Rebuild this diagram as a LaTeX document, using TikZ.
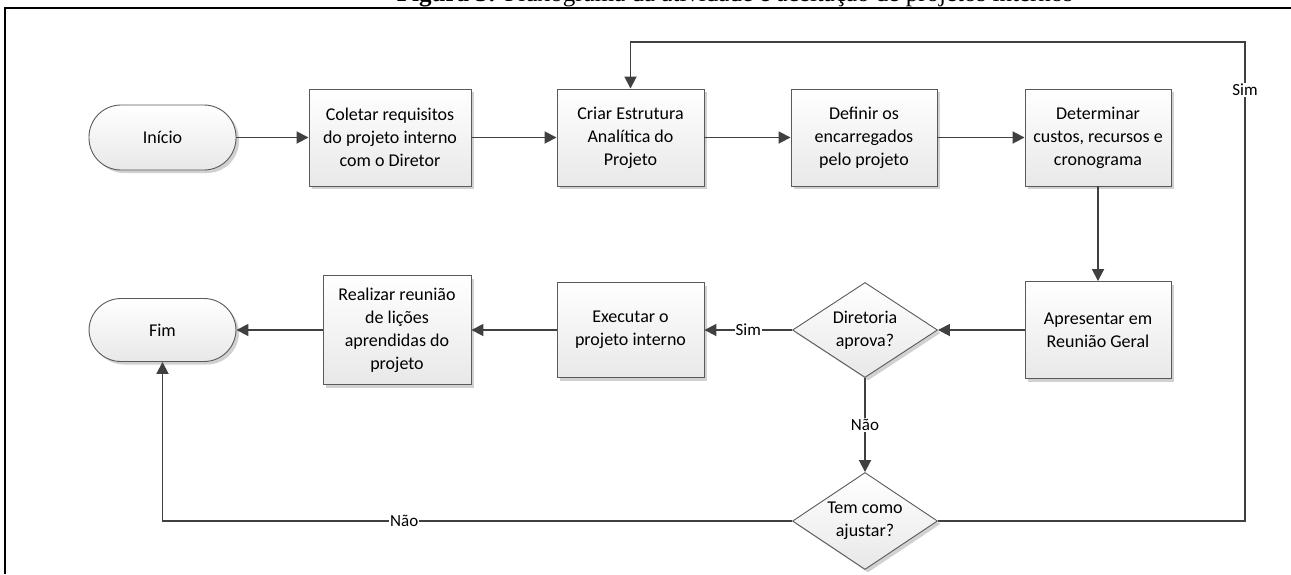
\documentclass[tikz,border=0pt]{standalone}
\usepackage{fontspec}
\setmainfont{Carlito}
\newfontfamily\titlefont{Liberation Serif}
\usetikzlibrary{shapes.geometric,arrows.meta,shadows}
\definecolor{linec}{HTML}{404040}
\definecolor{borderc}{HTML}{5A5A5A}
\definecolor{botc}{HTML}{E8E8E8}
\tikzset{
  base/.style={draw=borderc, line width=0.9pt, top color=white, bottom color=botc,
    drop shadow={shadow xshift=3pt, shadow yshift=-3pt, fill=black, opacity=0.18},
    align=center, inner sep=2pt, font=\fontsize{18}{23}\selectfont},
  procbox/.style={base, rectangle, minimum width=#1, minimum height=97pt},
  termbox/.style={base, rectangle, rounded corners=32pt, minimum width=147pt, minimum height=65pt},
  decbox/.style={base, diamond, aspect=1.5, minimum width=145pt, minimum height=95pt, inner sep=0pt},
  conn/.style={draw=linec, line width=1.8pt, -{Triangle[length=12pt,width=12pt]}},
  lbl/.style={fill=white, inner sep=1pt, font=\fontsize{17}{20}\selectfont, text=black}
}
\begin{document}
\begin{tikzpicture}[x=1pt,y=-1pt]
\useasboundingbox (0,0) rectangle (1291,574);
\begin{scope}
\clip (0,0) rectangle (1291,574);
\node[anchor=south, inner sep=0pt, font=\titlefont\fontsize{25}{30}\selectfont] (title) at (735,7)
  {\textbf{Figura 3:} Fluxograma da atividade e aceitação de projetos internos};
\end{scope}
% frame
\draw[line width=2.2pt, black] (5,574) -- (5,8) -- (1291,8);
% nodes
\node[termbox] (inicio) at (162.5,137.5) {Início};
\node[procbox=162pt] (coletar) at (390,137.5) {Coletar requisitos\\do projeto interno\\com o Diretor};
\node[procbox=147pt] (criar) at (630.5,137.5) {Criar Estrutura\\Analítica do\\Projeto};
\node[procbox=146pt] (definir) at (864,137.5) {Definir os\\encarregados\\pelo projeto};
\node[procbox=146pt] (determinar) at (1098,137.5) {Determinar\\custos, recursos e\\cronograma};
\node[procbox=146pt] (apresentar) at (1098,330) {Apresentar em\\Reunião Geral};
\node[decbox] (diretoria) at (865,330) {Diretoria\\aprova?};
\node[procbox=147pt, minimum height=95pt] (executar) at (630.5,330) {Executar o\\projeto interno};
\node[procbox=148pt, minimum height=109pt] (realizar) at (397,330) {Realizar reunião\\de lições\\aprendidas do\\projeto};
\node[termbox, minimum height=63pt] (fim) at (162.5,330) {Fim};
\node[decbox, minimum height=97pt] (tem) at (865,521) {Tem como\\ajustar?};
\coordinate (loopTR) at (1245,42);
% connectors
\draw[conn] (inicio) -- (coletar);
\draw[conn] (coletar) -- (criar);
\draw[conn] (criar) -- (definir);
\draw[conn] (definir) -- (determinar);
\draw[conn] (determinar) -- (apresentar);
\draw[conn] (apresentar) -- (diretoria);
\draw[conn] (diretoria.west) -- node[lbl, pos=0.5] {Sim} (executar);
\draw[conn] (executar) -- (realizar);
\draw[conn] (realizar) -- (fim);
\draw[conn] (diretoria.south) -- node[lbl, pos=0.5] {Não} (tem.north);
\draw[conn] (tem.west) -| node[lbl, pos=0.308] {Não} (fim.south);
\draw[conn] (tem.east) -| node[lbl, pos=0.95] {Sim} (loopTR) -| (criar.north);
\end{tikzpicture}
\end{document}
